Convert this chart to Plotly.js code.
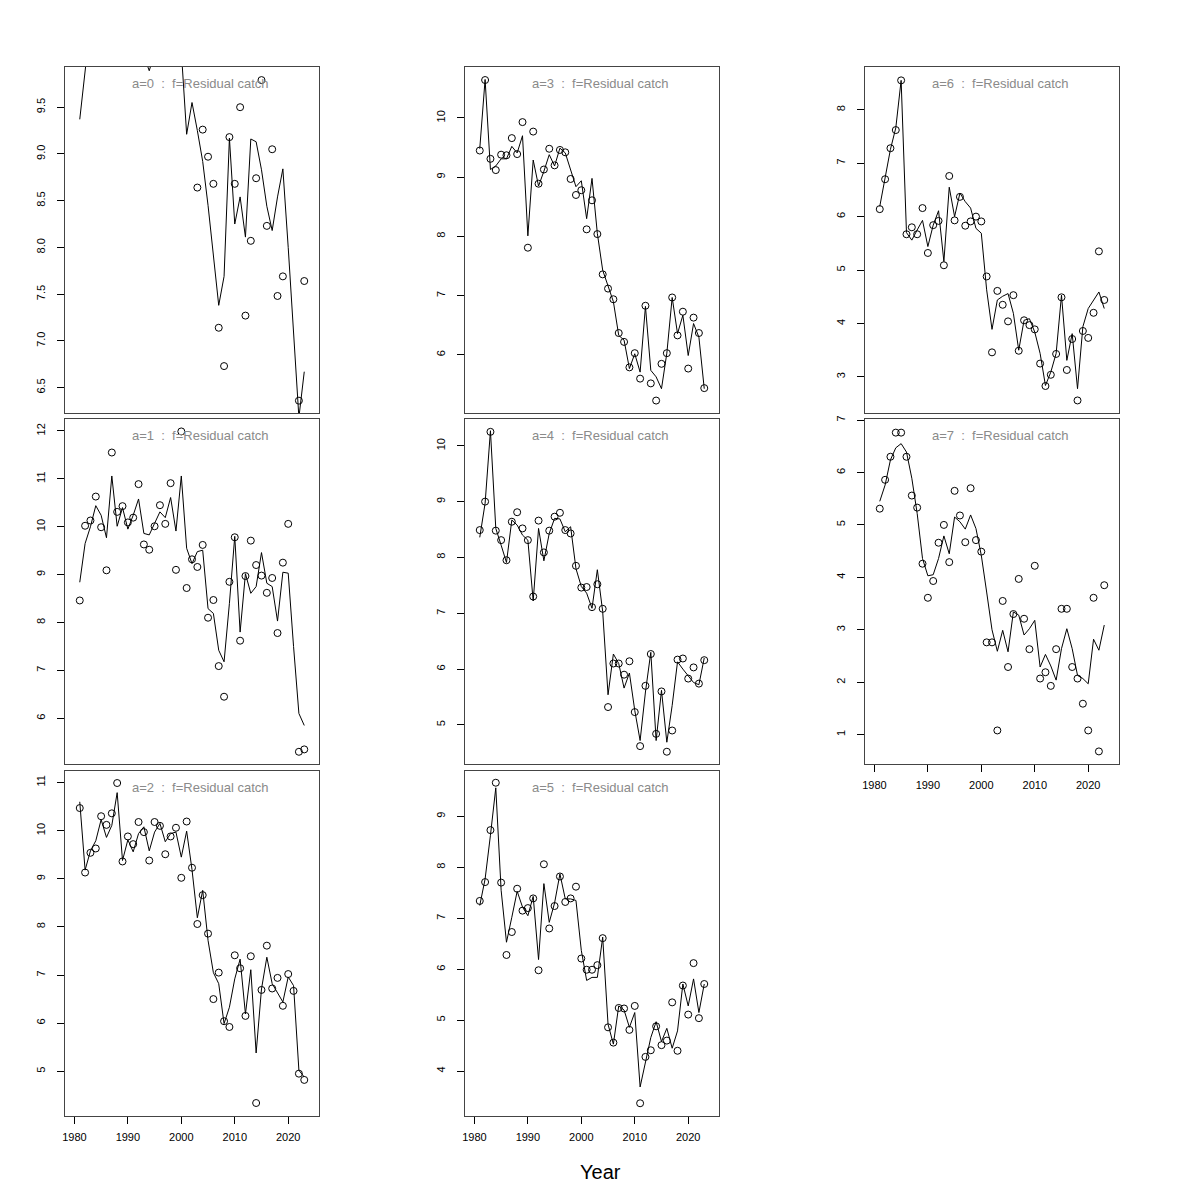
<!DOCTYPE html>
<html><head><meta charset="utf-8">
<script src="https://cdn.plot.ly/plotly-3.0.1.min.js"></script>
<style>html,body{margin:0;padding:0;background:#fff}#chart{width:1200px;height:1200px}</style>
</head><body><div id="chart"></div>
<script>
const years = [1981,1982,1983,1984,1985,1986,1987,1988,1989,1990,
  1991,1992,1993,1994,1995,1996,1997,1998,1999,2000,
  2001,2002,2003,2004,2005,2006,2007,2008,2009,2010,
  2011,2012,2013,2014,2015,2016,2017,2018,2019,2020,
  2021,2022,2023];

// a=0 (early values lie above the plotted range)
const obs_a0 = [10.3,10.6,10.5,10.4,10.7,10.2,10.8,10.5,10.3,10.4,
  10.6,10.3,10.1,10.2,10.2,10.4,10.1,10.5,10.2,10.3,
  10.1,10.0,8.64,9.26,8.97,8.68,7.14,6.73,9.18,8.68,
  9.50,7.27,8.07,8.74,9.79,8.23,9.05,7.48,7.69,null,
  null,6.36,7.64];
const fit_a0 = [9.37,9.97,10.4,10.6,10.5,10.7,10.5,10.8,10.4,10.6,
  10.5,10.4,10.05,9.89,10.08,10.5,10.4,10.6,10.5,10.1,
  9.21,9.55,9.25,8.92,8.45,7.9,7.38,7.69,9.17,8.25,
  8.54,8.11,9.16,9.13,8.83,8.44,8.18,8.54,8.84,8.0,
  7.1,6.18,6.67];

const obs_a1 = [8.46,10.02,10.13,10.63,9.99,9.09,11.55,10.31,10.43,10.09,
  10.19,10.89,9.63,9.52,10.01,10.45,10.06,10.91,9.10,11.99,
  8.72,9.32,9.16,9.62,8.10,8.47,7.09,6.45,8.85,9.78,
  7.62,8.97,9.71,9.20,8.98,8.62,8.93,7.78,9.25,10.06,
  null,5.30,5.35];
const fit_a1 = [8.84,9.65,10.0,10.44,10.24,9.77,11.06,10.01,10.40,9.95,
  10.24,10.58,9.86,9.83,10.07,10.31,10.19,10.61,9.91,11.06,
  9.55,9.23,9.48,9.51,8.29,8.19,7.42,7.18,8.4,9.8,
  7.80,9.02,8.61,8.75,9.46,8.82,8.75,8.03,9.05,9.03,
  7.5,6.10,5.85];

const obs_a2 = [10.47,9.13,9.54,9.63,10.30,10.12,10.36,10.99,9.36,9.88,
  9.72,10.18,9.97,9.38,10.18,10.10,9.51,9.88,10.06,9.02,
  10.19,9.23,8.06,8.66,7.86,6.50,7.05,6.04,5.92,7.41,
  7.14,6.15,7.39,4.34,6.69,7.61,6.72,6.94,6.36,7.02,
  6.67,4.95,4.82];
const fit_a2 = [10.60,9.18,9.58,9.79,10.23,9.86,10.11,10.79,9.38,9.81,
  9.56,9.94,10.08,9.58,9.97,10.15,9.77,9.94,9.97,9.45,
  9.99,9.19,8.19,8.76,7.72,7.05,6.82,5.99,6.33,6.92,
  7.33,6.19,7.11,5.38,6.71,7.37,6.82,6.64,6.44,6.96,
  6.78,5.02,4.88];

const obs_a3 = [9.45,10.64,9.31,9.12,9.38,9.37,9.66,9.39,9.93,7.81,
  9.77,8.89,9.13,9.48,9.20,9.46,9.42,8.97,8.70,8.78,
  8.12,8.61,8.04,7.36,7.12,6.94,6.37,6.22,5.79,6.03,
  5.60,6.83,5.52,5.23,5.85,6.03,6.97,6.33,6.73,5.77,
  6.63,6.37,5.44];
const fit_a3 = [9.48,10.65,9.13,9.19,9.31,9.31,9.52,9.41,9.70,8.01,
  9.29,8.85,9.10,9.38,9.19,9.49,9.41,9.13,8.84,8.94,
  8.30,8.98,8.05,7.43,7.15,6.90,6.33,6.25,5.77,6.02,
  5.71,6.82,5.74,5.63,5.43,6.03,6.97,6.36,6.67,5.99,
  6.53,6.30,5.43];

const obs_a4 = [8.49,9.00,10.25,8.48,8.31,7.95,8.64,8.81,8.52,8.31,
  7.30,8.66,8.09,8.48,8.73,8.80,8.49,8.43,7.85,7.46,
  7.47,7.11,7.52,7.08,5.32,6.10,6.10,5.90,6.14,5.23,
  4.62,5.70,6.27,4.84,5.60,4.52,4.90,6.17,6.19,5.83,
  6.03,5.74,6.16];
const fit_a4 = [8.36,8.97,10.27,8.52,8.22,7.91,8.67,8.58,8.40,8.31,
  7.22,8.52,7.94,8.43,8.70,8.69,8.46,8.55,7.80,7.48,
  7.36,7.09,7.78,7.03,5.54,6.27,6.10,5.66,5.93,5.26,
  4.72,5.59,6.30,4.72,5.62,4.69,5.35,6.13,6.00,5.88,
  5.76,5.72,6.20];

const obs_a5 = [7.34,7.71,8.73,9.66,7.70,6.28,6.73,7.58,7.15,7.20,
  7.39,5.98,8.06,6.80,7.24,7.82,7.32,7.39,7.62,6.21,
  5.99,5.99,6.08,6.61,4.86,4.56,5.24,5.23,4.81,5.28,
  3.37,4.28,4.41,4.88,4.51,4.60,5.35,4.40,5.68,5.11,
  6.12,5.04,5.71];
const fit_a5 = [7.25,7.77,8.63,9.56,7.55,6.53,7.02,7.53,7.22,7.05,
  7.43,6.19,7.68,6.92,7.30,7.87,7.38,7.38,7.35,6.37,
  5.78,5.84,5.84,6.63,4.92,4.53,5.28,5.20,4.86,5.15,
  3.69,4.20,4.66,4.97,4.58,4.84,4.45,4.79,5.71,5.28,
  5.81,5.15,5.71];

const obs_a6 = [6.14,6.70,7.28,7.62,8.55,5.67,5.80,5.67,6.16,5.32,
  5.84,5.92,5.09,6.76,5.93,6.37,5.83,5.91,6.00,5.91,
  4.88,3.46,4.61,4.35,4.04,4.53,3.49,4.06,3.97,3.89,
  3.25,2.83,3.04,3.43,4.49,3.13,3.71,2.56,3.86,3.73,
  4.20,5.35,4.44];
const fit_a6 = [6.19,6.72,7.26,7.66,8.55,5.70,5.56,5.75,5.93,5.44,
  5.84,6.11,5.16,6.55,6.00,6.44,6.28,6.16,5.78,5.69,
  4.63,3.89,4.44,4.51,4.56,4.19,3.50,4.06,4.09,3.84,
  3.44,2.84,3.09,3.44,4.53,3.31,3.81,2.78,3.94,4.28,
  4.44,4.59,4.28];

const obs_a7 = [5.31,5.86,6.30,6.76,6.76,6.30,5.56,5.33,4.26,3.61,
  3.93,4.66,5.00,4.29,5.65,5.18,4.67,5.70,4.71,4.49,
  2.76,2.76,1.08,3.55,2.29,3.30,3.97,3.21,2.63,4.22,
  2.07,2.19,1.93,2.63,3.40,3.40,2.29,2.07,1.59,1.08,
  3.61,0.68,3.85];
const fit_a7 = [5.45,5.76,6.24,6.47,6.55,6.39,5.89,5.22,4.36,4.03,
  4.05,4.36,4.79,4.45,5.15,5.06,4.92,5.19,4.93,4.42,
  3.72,3.00,2.59,2.99,2.58,3.34,3.28,2.90,3.02,3.18,
  2.29,2.53,2.31,2.04,2.64,3.02,2.64,2.13,2.07,1.97,
  2.82,2.61,3.09];

const ages = ["a=0","a=1","a=2","a=3","a=4","a=5","a=6","a=7"];
const fleetName = "f=Residual catch";
const xTicks = [1980,1990,2000,2010,2020];
const yTicks_a0 = [6.5,7.0,7.5,8.0,8.5,9.0,9.5];
const yTicks_a1 = [6,7,8,9,10,11,12];
const yTicks_a2 = [5,6,7,8,9,10,11];
const yTicks_a3 = [6,7,8,9,10];
const yTicks_a4 = [5,6,7,8,9,10];
const yTicks_a5 = [4,5,6,7,8,9];
const yTicks_a6 = [3,4,5,6,7,8];
const yTicks_a7 = [1,2,3,4,5,6,7];
const xLabel = "Year";

// layout geometry (pixels in a 1200x1200 page)
const W = 1200, H = 1200;
const colPx = [[65,319],[465,719],[865,1119]];
const rowPx = [[67,413],[419,764],[771,1116]];
const xRange = [1978.24, 2025.76];

const panels = [
  {obs:obs_a0, fit:fit_a0, col:0, row:0, yr:[6.228,9.93], yt:yTicks_a0, fmt:".1f", xt:false},
  {obs:obs_a1, fit:fit_a1, col:0, row:1, yr:[5.045,12.25], yt:yTicks_a1, fmt:"d", xt:false},
  {obs:obs_a2, fit:fit_a2, col:0, row:2, yr:[4.07,11.24], yt:yTicks_a2, fmt:"d", xt:true},
  {obs:obs_a3, fit:fit_a3, col:1, row:0, yr:[5.02,10.86], yt:yTicks_a3, fmt:"d", xt:false},
  {obs:obs_a4, fit:fit_a4, col:1, row:1, yr:[4.30,10.48], yt:yTicks_a4, fmt:"d", xt:false},
  {obs:obs_a5, fit:fit_a5, col:1, row:2, yr:[3.12,9.89], yt:yTicks_a5, fmt:"d", xt:true},
  {obs:obs_a6, fit:fit_a6, col:2, row:0, yr:[2.325,8.80], yt:yTicks_a6, fmt:"d", xt:false},
  {obs:obs_a7, fit:fit_a7, col:2, row:1, yr:[0.44,7.02], yt:yTicks_a7, fmt:"d", xt:true}
];

const FONT = "Liberation Sans, Arial, Helvetica, sans-serif";
const traces = [];
const layout = {
  width: W, height: H,
  margin: {l:0, r:0, t:0, b:0},
  paper_bgcolor: "#ffffff", plot_bgcolor: "#ffffff",
  showlegend: false,
  font: {family: FONT, color: "#000"},
  annotations: []
};

panels.forEach((p, i) => {
  const s = i === 0 ? "" : String(i + 1);
  traces.push({x: years, y: p.fit, xaxis: "x" + s, yaxis: "y" + s, type: "scatter",
    mode: "lines", line: {color: "#000", width: 1}, hoverinfo: "skip"});
  traces.push({x: years, y: p.obs, xaxis: "x" + s, yaxis: "y" + s, type: "scatter",
    mode: "markers", marker: {symbol: "circle-open", size: 7, color: "#000", line: {width: 1, color: "#000"}},
    hoverinfo: "skip"});
  const cx = colPx[p.col], ry = rowPx[p.row];
  layout["xaxis" + s] = {
    domain: [cx[0] / W, cx[1] / W], range: xRange, anchor: "y" + s,
    showline: true, mirror: true, linecolor: "#444", linewidth: 1,
    showgrid: false, zeroline: false, fixedrange: true,
    tickmode: "array", tickvals: p.xt ? xTicks : [], showticklabels: p.xt,
    ticks: p.xt ? "outside" : "", ticklen: 7, tickwidth: 1, tickcolor: "#000",
    ticklabelstandoff: 4,
    tickfont: {size: 11, color: "#000", family: FONT}
  };
  layout["yaxis" + s] = {
    domain: [1 - ry[1] / H, 1 - ry[0] / H], range: p.yr, anchor: "x" + s,
    showline: true, mirror: true, linecolor: "#444", linewidth: 1,
    showgrid: false, zeroline: false, fixedrange: true,
    tickmode: "array", tickvals: p.yt, tickformat: p.fmt,
    ticks: "outside", ticklen: 7, tickwidth: 1, tickcolor: "#000",
    tickangle: -90, ticklabelstandoff: 8,
    tickfont: {size: 11, color: "#000", family: FONT}
  };
  layout.annotations.push({
    xref: "x" + s + " domain", yref: "y" + s + " domain",
    x: 135.5 / 254, y: 1 - 17 / 346, xanchor: "center", yanchor: "middle",
    text: ages[i] + "\u00A0\u00A0:\u00A0\u00A0" + fleetName, showarrow: false,
    font: {size: 13, color: "#8a8a8a", family: FONT}
  });
});

layout.annotations.push({
  xref: "paper", yref: "paper", x: 600 / W, y: 1 - 1172 / H,
  xanchor: "center", yanchor: "middle", text: xLabel, showarrow: false,
  font: {size: 20, color: "#000", family: FONT}
});

Plotly.newPlot("chart", traces, layout, {staticPlot: true, displayModeBar: false});
</script>
</body></html>
